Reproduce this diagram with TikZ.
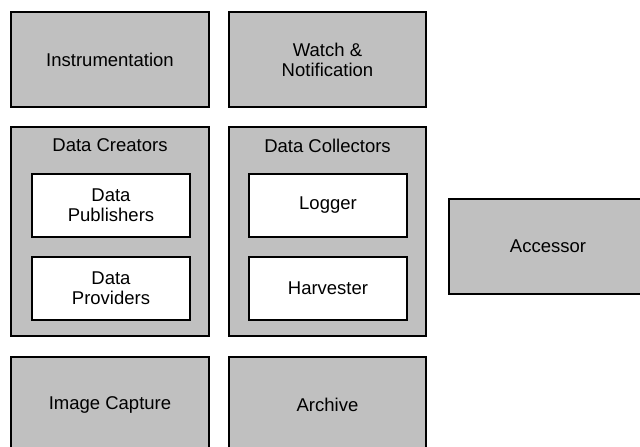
\documentclass[tikz,border=0pt]{standalone}
\usepackage{fontspec}
\setmainfont{Liberation Sans}
\begin{document}
\begin{tikzpicture}[x=1pt,y=-1pt,
  gbox/.style={draw=black,line width=1.2pt,fill=boxgray,inner sep=0pt,align=center,font=\fontsize{18.5}{20}\selectfont},
  wbox/.style={draw=black,line width=1.2pt,fill=white,inner sep=0pt,align=center,font=\fontsize{18.5}{20}\selectfont},
  ttl/.style={inner sep=0pt,font=\fontsize{18.5}{20}\selectfont}]
\definecolor{boxgray}{HTML}{C0C0C0}
\useasboundingbox (0,0) rectangle (640,447);
\clip (0,0) rectangle (640,447);
\fill[white] (0,0) rectangle (640,447);
% top row
\node[gbox,minimum width=198pt,minimum height=95pt] (instr) at (110,59.5) {Instrumentation};
\node[gbox,minimum width=197pt,minimum height=95pt] (watch) at (327.5,59.5) {Watch \&\\Notification};
% containers
\node[gbox,minimum width=198pt,minimum height=209pt] (creators) at (110,231.5) {};
\node[ttl] (creatorsttl) at (110,145.5) {Data Creators};
\node[wbox,minimum width=158pt,minimum height=63pt] (pub) at (111,205.5) {Data\\Publishers};
\node[wbox,minimum width=158pt,minimum height=63pt] (prov) at (111,288.5) {Data\\Providers};
\node[gbox,minimum width=197pt,minimum height=209pt] (collectors) at (327.5,231.5) {};
\node[ttl] (collectorsttl) at (327.5,145.5) {Data Collectors};
\node[wbox,minimum width=158pt,minimum height=63pt] (logger) at (328,205.5) {Logger};
\node[wbox,minimum width=158pt,minimum height=63pt] (harv) at (328,288.5) {Harvester};
% accessor
\node[gbox,minimum width=198pt,minimum height=95pt] (acc) at (548,246.5) {Accessor};
% bottom row
\node[gbox,minimum width=198pt,minimum height=95pt] (img) at (110,404.5) {Image Capture};
\node[gbox,minimum width=197pt,minimum height=95pt] (arch) at (327.5,404.5) {Archive};
\end{tikzpicture}
\end{document}
